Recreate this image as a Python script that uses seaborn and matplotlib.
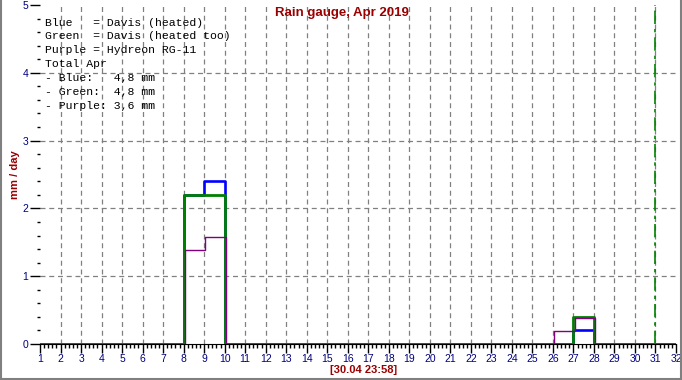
import numpy as np
import pandas as pd
import matplotlib
matplotlib.use("Agg")
import matplotlib.pyplot as plt
import matplotlib.transforms as mtransforms
import seaborn as sns

# ---- data (mm per day, April 2019) ----
days = list(range(1, 33))  # day 32 closes the last step
blue_vals = [0, 0, 0, 0, 0, 0, 0, 2.2, 2.4, 0, 0, 0, 0, 0, 0, 0, 0, 0, 0, 0,
             0, 0, 0, 0, 0, 0, 0.2, 0, 0, 0, 0]
green_vals = [0, 0, 0, 0, 0, 0, 0, 2.2, 2.2, 0, 0, 0, 0, 0, 0, 0, 0, 0, 0, 0,
              0, 0, 0, 0, 0, 0, 0.4, 0, 0, 0, 0]
purple_vals = [0, 0, 0, 0, 0, 0, 0, 1.4, 1.6, 0, 0, 0, 0, 0, 0, 0, 0, 0, 0, 0,
               0, 0, 0, 0, 0, 0.2, 0.4, 0, 0, 0, 0]
x_ticks = list(range(1, 33))
y_ticks = [0, 1, 2, 3, 4, 5]
now_day = 31
legend_lines = ["Blue   = Davis (heated)",
                "Green  = Davis (heated too)",
                "Purple = Hydreon RG-11",
                "Total Apr",
                "- Blue:   4,8 mm",
                "- Green:  4,8 mm",
                "- Purple: 3,6 mm"]
title = "Rain gauge, Apr 2019"
ylabel = "mm / day"
stamp = "[30.04 23:58]"

series = [("Blue", blue_vals, "#0000FF", 1.9, (0, 0)),
          ("Green", green_vals, "#008000", 2.0, (0, 0)),
          ("Purple", purple_vals, "#800080", 1.0, (1.2, -1.0))]

sns.set_style("white")
plt.rcParams["font.family"] = ["Liberation Sans", "DejaVu Sans"]

W, H = 682, 380
fig = plt.figure(figsize=(W / 100, H / 100), dpi=100)
ax = fig.add_axes([40 / W, 36 / H, (676 - 40) / W, (344 - 5) / H])

# grid
for gx in range(2, 32):
    ax.axvline(gx, color="#808080", lw=0.9, ls=(0, (4, 3)), zorder=0)
for gy in [1, 2, 3, 4]:
    ax.axhline(gy, color="#808080", lw=0.9, ls=(0, (4, 3)), zorder=0)

for name, vals, col, lw, off in series:
    df = pd.DataFrame({"day": days, "mm": vals + [vals[-1]]})
    n_before = len(ax.lines)
    sns.lineplot(data=df, x="day", y="mm", ax=ax, color=col, lw=lw,
                 drawstyle="steps-post", estimator=None, sort=False,
                 zorder=3)
    if off != (0, 0):
        for ln in ax.lines[n_before:]:
            ln.set_transform(mtransforms.offset_copy(
                ax.transData, fig=fig, x=off[0], y=off[1], units="dots"))

ax.axvline(now_day, color="#008000", lw=1.2, ls=(0, (8, 3, 2, 3)), zorder=2)

ax.set_xlim(1, 32)
ax.set_ylim(0, 5)
ax.set_xticks(x_ticks)
ax.set_xticklabels([str(t) for t in x_ticks])
ax.set_yticks(y_ticks)
ax.set_yticklabels([str(t) for t in y_ticks])
ax.set_xticks(np.arange(1, 32.01, 0.2), minor=True)
ax.set_yticks(np.arange(0, 5.01, 0.2), minor=True)
ax.tick_params(which="both", bottom=True, left=True, top=False, right=False)
ax.tick_params(axis="x", which="major", length=6.5, width=1, color="black",
               labelsize=7.5, labelcolor="#000080", pad=1, direction="out")
ax.tick_params(axis="x", which="minor", length=3, width=1, color="black",
               direction="out")
ax.tick_params(axis="y", which="major", length=7.5, width=1, color="black",
               labelsize=7.5, labelcolor="#000080", pad=1, direction="out")
ax.tick_params(axis="y", which="minor", length=2.5, width=1, color="black",
               direction="out")
ax.set_xlabel("")
ax.set_ylabel("")
for s in ["left", "top", "right"]:
    ax.spines[s].set_visible(False)
ax.spines["bottom"].set_color("black")
ax.patch.set_alpha(0)

# texts
fig.text(342 / W, 1 - 13 / H, title, ha="center", va="center",
         fontsize=9.5, fontweight="bold", color="#990000")
fig.text(15 / W, 1 - 175 / H, ylabel, ha="center", va="center", rotation=90,
         fontsize=8, fontweight="bold", color="#990000")
fig.text(364 / W, 1 - 370 / H, stamp, ha="center", va="center",
         fontsize=8, fontweight="bold", color="#990000")
for i, line in enumerate(legend_lines):
    ax.text(45 / W, 1 - (22.5 + 13.9 * i) / H, line, transform=fig.transFigure,
            ha="left", va="center", fontsize=8.25, family="Liberation Mono",
            color="black")

# figure frame
for (x0, y0, x1, y1) in [(0.5 / W, 0, 0.5 / W, 1), (1 - 1.5 / W, 0, 1 - 1.5 / W, 1),
                         (0, 1.5 / H, 1, 1.5 / H)]:
    fig.add_artist(plt.Line2D([x0, x1], [y0, y1], color="#808080", lw=1.5,
                              transform=fig.transFigure))

fig.savefig("out.png", dpi=100)
